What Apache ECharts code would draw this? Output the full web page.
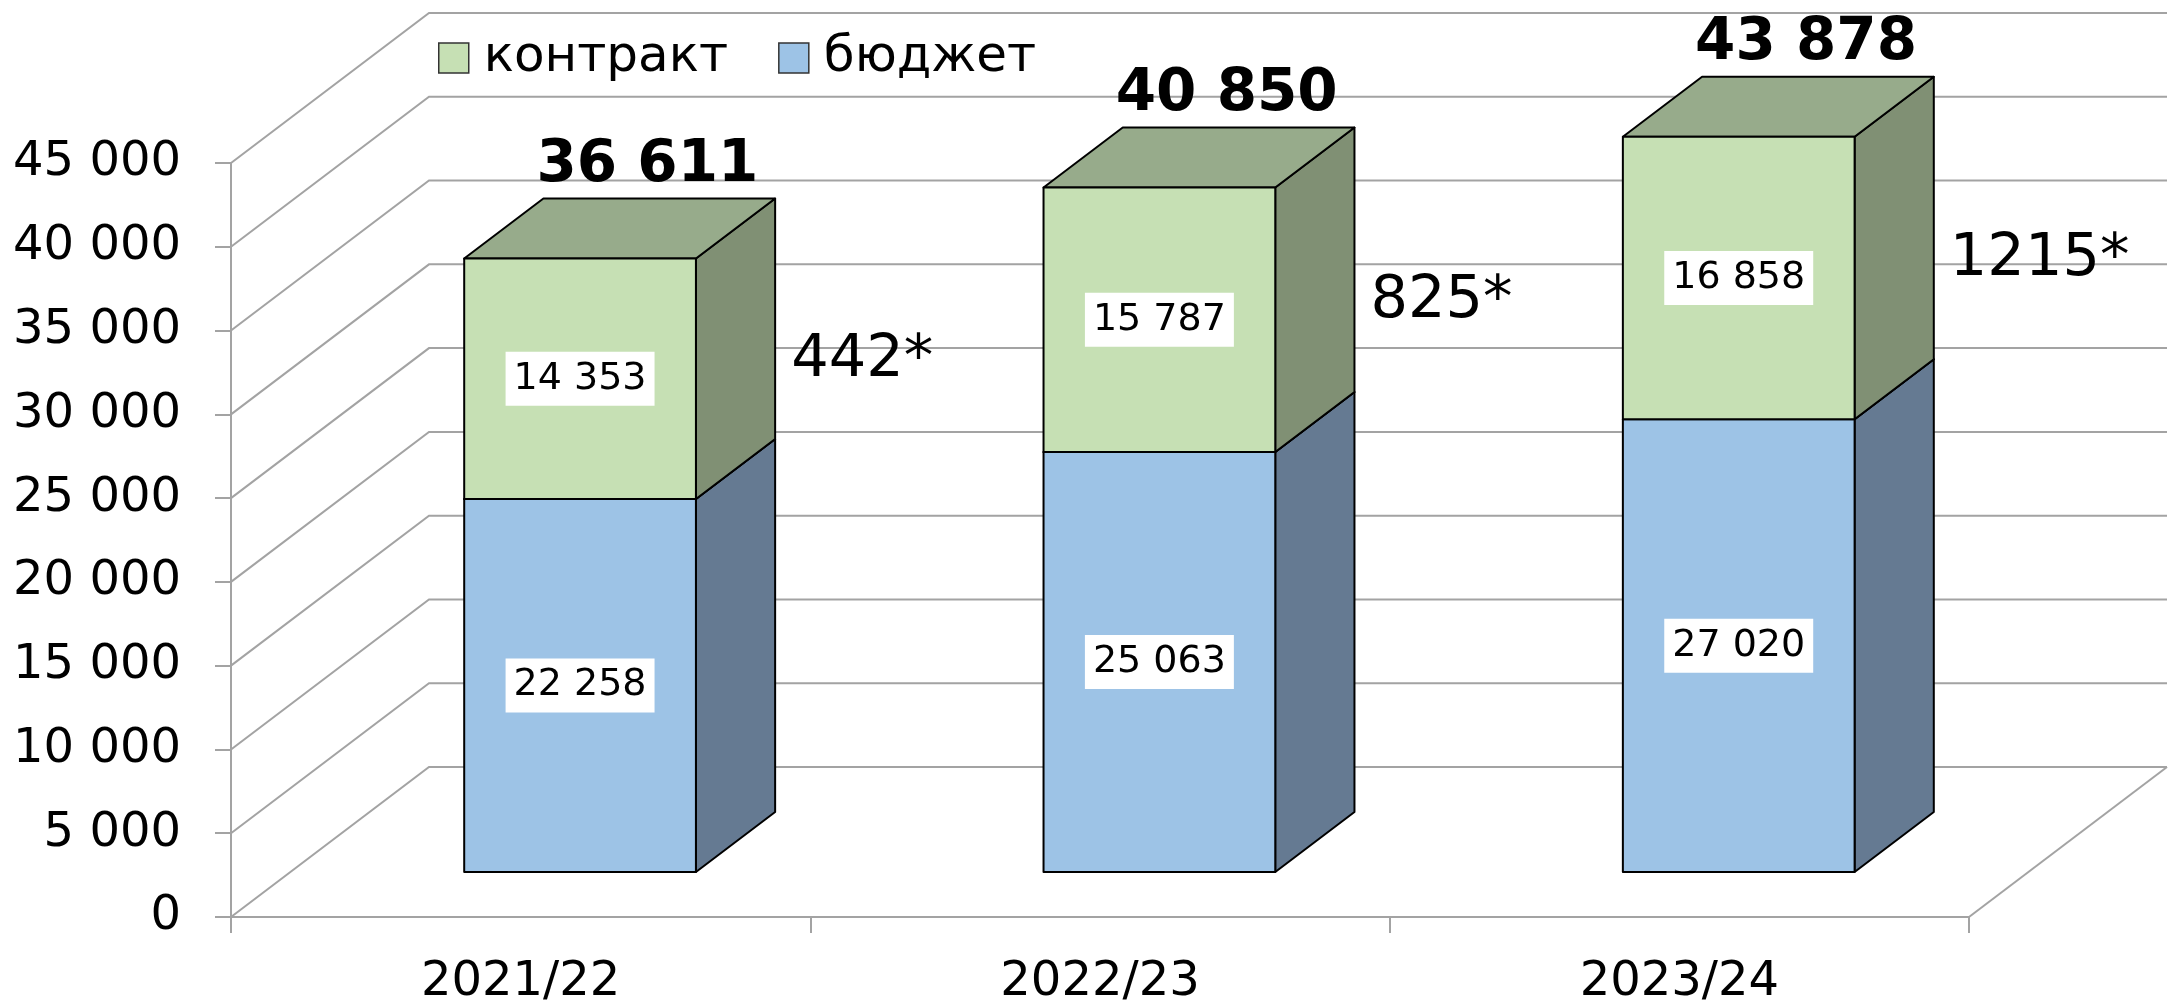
<!DOCTYPE html>
<html>
<head>
<meta charset="utf-8">
<script src="https://cdn.jsdelivr.net/npm/echarts/dist/echarts.min.js"></script>
<style>
  html, body { margin: 0; padding: 0; background: #fff; }
  #chart { width: 2178px; height: 1007px; }
</style>
</head>
<body>
<div id="chart"></div>
<script>
const categories = ['2021/22', '2022/23', '2023/24']
const budget = [22258, 25063, 27020]
const contract = [14353, 15787, 16858]
const extra = [442, 825, 1215]
const yTicks = [0, 5000, 10000, 15000, 20000, 25000, 30000, 35000, 40000, 45000]

const FONT = "'DejaVu Sans', Verdana, sans-serif"
// depth of the 3d box in px, bars sit between Z0 and Z1 of it
const DX = 198
const DY = -150
const Z0 = 0.3
const Z1 = 0.7
const BAR_W = 0.4
const GRID_COLOR = '#a3a3a3'
const colors = {
  budget: { front: '#9DC3E6', side: '#657A92', top: '#7F9DBB' },
  contract: { front: '#C6E0B4', side: '#809074', top: '#97AB8B' },
}

function fmt(v) {
  return String(v).replace(/\B(?=(\d{3})+(?!\d))/g, ' ')
}

function renderWall(params, api) {
  const v = api.value(1)
  const bw = api.size([1, 0])[0]
  const p0 = api.coord([0, v])
  const p2 = api.coord([categories.length - 1, v])
  const xl = p0[0] - bw / 2
  const xr = p2[0] + bw / 2
  const y = p0[1]
  const line = { stroke: GRID_COLOR, lineWidth: 2, fill: null }
  const children = [{
    type: 'polyline',
    shape: { points: [[xl, y], [xl + DX, y + DY], [xr + DX, y + DY]] },
    style: line,
  }]
  if (v === 0) {
    children.push({ type: 'line', shape: { x1: xr, y1: y, x2: xr + DX, y2: y + DY }, style: line })
  }
  return { type: 'group', children }
}

function barRenderer(col) {
  return function (params, api) {
    const i = api.value(0)
    const lo = api.value(1)
    const hi = api.value(2)
    const bw = api.size([1, 0])[0]
    const b = api.coord([i, lo])
    const t = api.coord([i, hi])
    const half = bw * BAR_W / 2
    const L = b[0] - half + Z0 * DX
    const R = b[0] + half + Z0 * DX
    const yb = b[1] + Z0 * DY
    const yt = t[1] + Z0 * DY
    const dx = (Z1 - Z0) * DX
    const dy = (Z1 - Z0) * DY
    const edge = { stroke: '#000', lineWidth: 2, lineJoin: 'round' }
    return {
      type: 'group',
      children: [
        { type: 'polygon', shape: { points: [[R, yb], [R, yt], [R + dx, yt + dy], [R + dx, yb + dy]] },
          style: Object.assign({ fill: col.side }, edge) },
        { type: 'polygon', shape: { points: [[L, yt], [R, yt], [R + dx, yt + dy], [L + dx, yt + dy]] },
          style: Object.assign({ fill: col.top }, edge) },
        { type: 'rect', shape: { x: L, y: yt, width: R - L, height: yb - yt },
          style: Object.assign({ fill: col.front }, edge) },
        { type: 'text', x: (L + R) / 2, y: (yt + yb) / 2,
          style: { text: fmt(hi - lo), fontFamily: FONT, fontSize: 38, fill: '#000',
            align: 'center', verticalAlign: 'middle', backgroundColor: '#fff', padding: [8, 8] } },
      ],
    }
  }
}

function renderTotal(params, api) {
  const p = api.coord([api.value(0), api.value(1)])
  return {
    type: 'text', x: p[0] + 0.64 * DX, y: p[1] + Z1 * DY - 33,
    style: { text: fmt(api.value(1)), fontFamily: FONT, fontSize: 58, fontWeight: 'bold', fill: '#000',
      align: 'center', verticalAlign: 'middle' },
  }
}

function renderExtra(params, api) {
  const i = api.value(0)
  const bw = api.size([1, 0])[0]
  const p = api.coord([i, api.value(1)])
  return {
    type: 'text', x: p[0] + bw * BAR_W / 2 + Z1 * DX + 16, y: p[1] + Z0 * DY - 18,
    style: { text: extra[i] + '*', fontFamily: FONT, fontSize: 59, fill: '#000',
      align: 'left', verticalAlign: 'middle' },
  }
}

const chart = echarts.init(document.getElementById('chart'))
const option = {
  animation: false,
  backgroundColor: '#fff',
  textStyle: { fontFamily: FONT },
  legend: {
    data: ['контракт', 'бюджет'],
    left: 433,
    top: 28,
    icon: 'rect',
    itemWidth: 30,
    itemHeight: 30,
    itemGap: 50,
    itemStyle: { borderColor: '#333', borderWidth: 1.5 },
    textStyle: { fontFamily: FONT, fontSize: 50, color: '#000', padding: [0, 0, 0, 10] },
  },
  grid: { left: 231, right: 209, top: 163, bottom: 90, containLabel: false },
  xAxis: {
    type: 'category',
    data: categories,
    boundaryGap: true,
    axisLine: { lineStyle: { color: GRID_COLOR, width: 2 } },
    axisTick: { show: true, length: 16, lineStyle: { color: GRID_COLOR, width: 2 } },
    axisLabel: { fontFamily: FONT, fontSize: 48, color: '#000', margin: 42 },
    splitLine: { show: false },
  },
  yAxis: {
    type: 'value',
    min: 0,
    max: 45000,
    interval: 5000,
    axisLine: { show: true, lineStyle: { color: GRID_COLOR, width: 2 } },
    axisTick: { show: true, length: 16, lineStyle: { color: GRID_COLOR, width: 2 } },
    axisLabel: { fontFamily: FONT, fontSize: 48, color: '#000', margin: 50, formatter: (v) => fmt(v) },
    splitLine: { show: false },
  },
  series: [
    {
      name: 'walls',
      type: 'custom',
      clip: false,
      silent: true,
      renderItem: renderWall,
      data: yTicks.map(v => [0, v]),
      z: 1,
    },
    {
      name: 'бюджет',
      type: 'custom',
      clip: false,
      renderItem: barRenderer(colors.budget),
      itemStyle: { color: colors.budget.front },
      data: budget.map((v, i) => [i, 0, v]),
      encode: { x: 0, y: [1, 2] },
      z: 2,
    },
    {
      name: 'контракт',
      type: 'custom',
      clip: false,
      renderItem: barRenderer(colors.contract),
      itemStyle: { color: colors.contract.front },
      data: contract.map((v, i) => [i, budget[i], budget[i] + v]),
      encode: { x: 0, y: [1, 2] },
      z: 3,
    },
    {
      name: 'total',
      type: 'custom',
      clip: false,
      renderItem: renderTotal,
      data: contract.map((v, i) => [i, budget[i] + v]),
      z: 4,
    },
    {
      name: 'extra',
      type: 'custom',
      clip: false,
      renderItem: renderExtra,
      data: contract.map((v, i) => [i, budget[i] + v / 2]),
      z: 4,
    },
  ],
}
chart.setOption(option)
window.addEventListener('resize', () => chart.resize())
</script>
</body>
</html>
